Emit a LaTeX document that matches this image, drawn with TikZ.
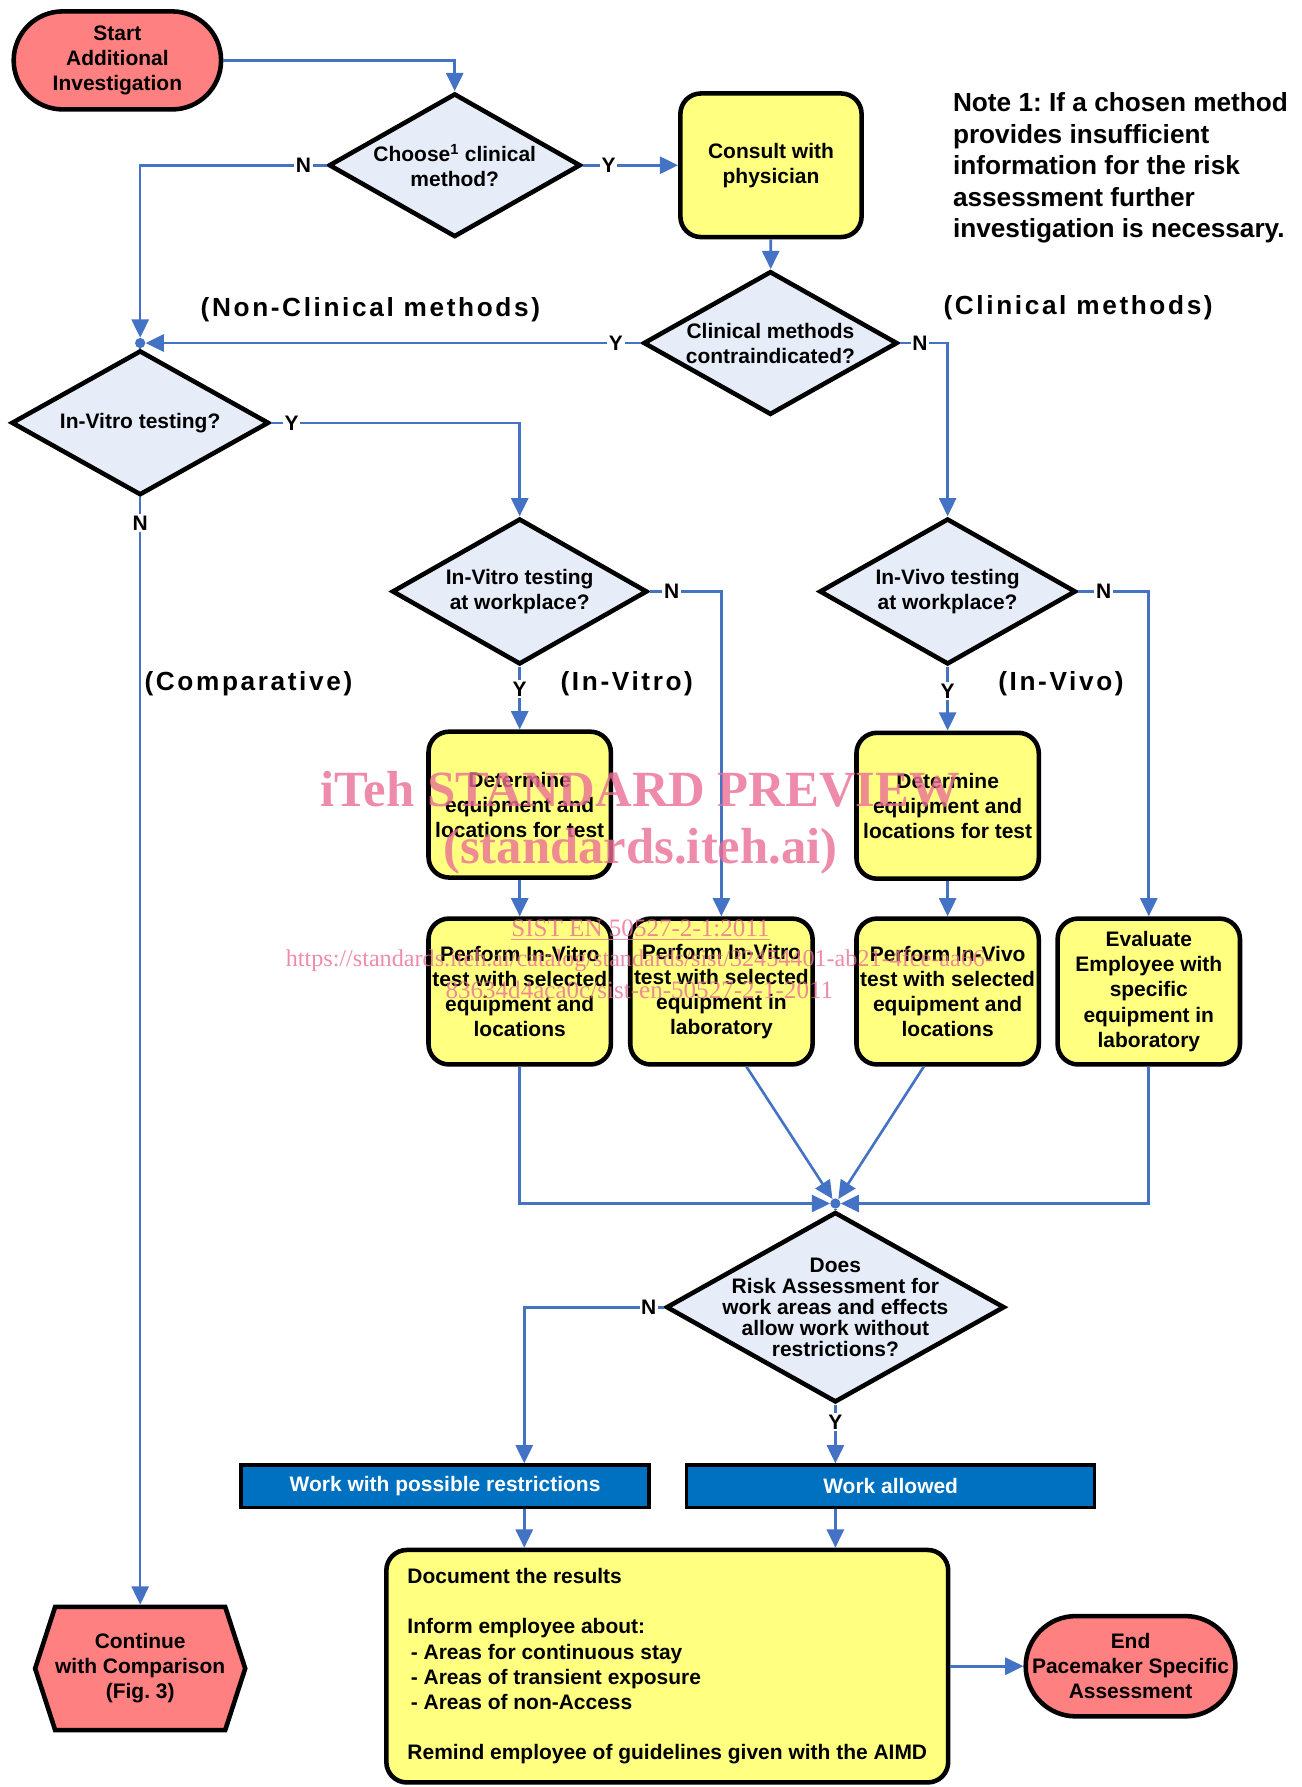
\documentclass[tikz,border=0pt]{standalone}
\usepackage{fontspec}
\setmainfont{Liberation Sans}
\newfontfamily\spacedfont[LetterSpace=10]{Liberation Sans}
\newfontfamily\wmfont{Liberation Serif}
\usepackage{tikz}
\usetikzlibrary{shapes.geometric, shapes.symbols, arrows.meta, positioning}
\frenchspacing

\definecolor{termred}{RGB}{255,128,128}
\definecolor{boxyellow}{RGB}{255,255,128}
\definecolor{askblue}{RGB}{230,236,248}
\definecolor{barblue}{RGB}{0,112,192}
\definecolor{flowblue}{RGB}{68,114,196}
\definecolor{wmpink}{RGB}{234,110,150}

\tikzstyle{base} = [font=\fontsize{18.4}{22}\selectfont\bfseries, align=center, line width=4pt, draw=black, inner sep=0pt]
\tikzstyle{terminal} = [base, rectangle, rounded corners=43pt, fill=termred, minimum width=182pt, minimum height=86pt]
\tikzstyle{decision} = [base, diamond, fill=askblue]
\tikzstyle{asktext} = [font=\fontsize{18.4}{22}\selectfont\bfseries, align=center, inner sep=0pt]
\tikzstyle{process} = [base, rectangle, rounded corners=18pt, fill=boxyellow, minimum width=160pt, minimum height=128pt]
\tikzstyle{outcome} = [base, rectangle, line width=3pt, fill=barblue, text=white, minimum width=358pt, minimum height=37pt]
\tikzstyle{endhex} = [base, signal, signal to=west and east, signal pointer angle=144, fill=termred, minimum width=167pt, minimum height=108pt]
\tikzstyle{junction} = [circle, fill=flowblue, inner sep=0pt, minimum size=9pt]
\tikzstyle{yn} = [font=\fontsize{18.4}{22}\selectfont\bfseries, fill=white, inner sep=1.5pt]
\tikzstyle{branch} = [font=\spacedfont\bfseries\fontsize{23}{28}\selectfont, inner sep=0pt]
\tikzstyle{link} = [draw=flowblue, line width=2.3pt]
\tikzstyle{arrow} = [link, -{Triangle[length=16pt,width=15pt]}]
\tikzstyle{watermark} = [text=wmpink, opacity=0.8, inner sep=0pt, anchor=base]

\begin{document}
\begin{tikzpicture}[x=1pt, y=-1pt]
    \useasboundingbox (0,0) rectangle (1142,1568);

    % Start and choice of method
    \node (start) [terminal] at (103,53) {Start\\Additional\\Investigation};
    \node (choose) [decision, minimum width=221pt, minimum height=126pt, label={[asktext]center:{Choose\textsuperscript{1} clinical\\method?}}] at (399,145) {};
    \node (consult) [process, minimum width=159pt, minimum height=126pt] at (676.5,145) {Consult with\\physician};
    \node (contra) [decision, minimum width=223pt, minimum height=126pt, label={[asktext]center:{Clinical methods\\contraindicated?}}] at (676,301) {};

    % Note
    \node (note) [anchor=north west, align=left, inner sep=0pt, font=\fontsize{23}{27.7}\selectfont\bfseries] at (836,81) {Note 1: If a chosen method\\provides insufficient\\information for the risk\\assessment further\\investigation is necessary.};

    % Branch titles
    \node (nonclin) [branch] at (325,272) {(Non-Clinical methods)};
    \node (clin) [branch] at (946,270) {(Clinical methods)};
    \node (compar) [branch] at (218,600) {(Comparative)};
    \node (vitrotag) [branch] at (550,600) {(In-Vitro)};
    \node (vivotag) [branch] at (931,600) {(In-Vivo)};

    % Questions
    \node (jn1) [junction] at (123,301) {};
    \node (invitro) [decision, minimum width=226pt, minimum height=127pt, label={[asktext]center:{In-Vitro testing?}}] at (123,371) {};
    \node (vitroq) [decision, minimum width=224pt, minimum height=128pt, label={[asktext]center:{In-Vitro testing\\at workplace?}}] at (456,519) {};
    \node (vivoq) [decision, minimum width=225pt, minimum height=128pt, label={[asktext]center:{In-Vivo testing\\at workplace?}}] at (831.5,519) {};

    % Tests
    \node (det1) [process] at (456,706) {Determine\\equipment and\\locations for test};
    \node (det2) [process] at (831.5,707) {Determine\\equipment and\\locations for test};
    \node (perf1) [process] at (456,870) {Perform In-Vitro\\test with selected\\equipment and\\locations};
    \node (perf2) [process] at (633,870) {Perform In-Vitro\\test with selected\\equipment in\\laboratory};
    \node (perf3) [process] at (831.5,870) {Perform In-Vivo\\test with selected\\equipment and\\locations};
    \node (eval) [process] at (1008,870) {Evaluate\\Employee with\\specific\\equipment in\\laboratory};

    % Risk assessment
    \node (jn2) [junction] at (733,1056) {};
    \node (riskq) [decision, minimum width=297pt, minimum height=167pt, label={[asktext, font=\fontsize{18.4}{18.5}\selectfont\bfseries]center:{Does\\Risk Assessment for\\work areas and effects\\allow work without\\restrictions?}}] at (733,1147) {};
    \node (wpr) [outcome] at (390.5,1304) {Work with possible restrictions};
    \node (wal) [outcome] at (781.5,1304) {Work allowed};
    \node (doc) [process, align=left, minimum width=493pt, minimum height=204pt] at (585.5,1462) {Document the results\\[22pt]Inform employee about:\\\hspace*{3pt}- Areas for continuous stay\\\hspace*{3pt}- Areas of transient exposure\\\hspace*{3pt}- Areas of non-Access\\[22pt]Remind employee of guidelines given with the AIMD};

    % Ends
    \node (cont) [endhex] at (123,1464) {Continue\\with Comparison\\(Fig. 3)};
    \node (endn) [terminal, minimum width=184pt, minimum height=88pt, rounded corners=44pt] at (992,1462) {End\\Pacemaker Specific\\Assessment};

    % Arrows
    \draw [arrow] (start) -| (choose);
    \draw [arrow] (choose.west) -| node[yn, pos=0.062] {N} (jn1);
    \draw [arrow] (choose.east) -- node[yn, pos=0.27] {Y} (consult.west);
    \draw [arrow] (consult) -- (contra);
    \draw [arrow] (contra.west) -- node[yn, pos=0.051] {Y} (jn1);
    \draw [arrow] (contra.east) -| node[yn, pos=0.21] {N} (vivoq.north);
    \draw [link] (jn1) -- (invitro.north);
    \draw [arrow] (invitro.east) -| node[yn, pos=0.041] {Y} (vitroq.north);
    \draw [arrow] (invitro.south) -- node[yn, pos=0.023] {N} (cont.north);
    \draw [arrow] (vitroq.east) -| node[yn, pos=0.154] {N} (perf2.north);
    \draw [arrow] (vitroq.south) -- node[yn, pos=0.356] {Y} (det1.north);
    \draw [arrow] (vivoq.east) -| node[yn, pos=0.18] {N} (eval.north);
    \draw [arrow] (vivoq.south) -- node[yn, pos=0.38] {Y} (det2.north);
    \draw [arrow] (det1) -- (perf1);
    \draw [arrow] (det2) -- (perf3);
    \draw [arrow] (perf1.south) |- (jn2);
    \draw [arrow] ([xshift=22pt]perf2.south) -- (jn2);
    \draw [arrow] ([xshift=-21pt]perf3.south) -- (jn2);
    \draw [arrow] (eval.south) |- (jn2);
    \draw [link] (jn2) -- (riskq.north);
    \draw [arrow] (riskq.west) -| node[yn, pos=0.054] {N} ([xshift=69.5pt]wpr.north);
    \draw [arrow] (riskq.south) -- node[yn, pos=0.3] {Y} (riskq.south |- wal.north);
    \draw [arrow] ([xshift=69.5pt]wpr.south) -- ([xshift=69.5pt]wpr.south |- doc.north);
    \draw [arrow] (riskq.south |- wal.south) -- (riskq.south |- doc.north);
    \draw [arrow] (doc) -- (endn);

    % Watermark
    \node (wm1) [watermark, font=\wmfont\bfseries\fontsize{44.5}{48}\selectfont] at (562,708) {iTeh STANDARD PREVIEW};
    \node (wm2) [watermark, font=\wmfont\bfseries\fontsize{44.5}{48}\selectfont] at (562,758) {(standards.iteh.ai)};
    \node (wm3) [watermark, font=\wmfont\fontsize{22}{24}\selectfont] at (562,822) {\underline{SIST EN 50527-2-1:2011}};
    \node (wm4) [watermark, font=\wmfont\fontsize{21.2}{24}\selectfont] at (561,848) {https://standards.iteh.ai/catalog/standards/sist/32454401-ab21-4fce-aa66-};
    \node (wm5) [watermark, font=\wmfont\fontsize{22}{24}\selectfont] at (561,876) {83634d4aca0c/sist-en-50527-2-1-2011};
\end{tikzpicture}
\end{document}
